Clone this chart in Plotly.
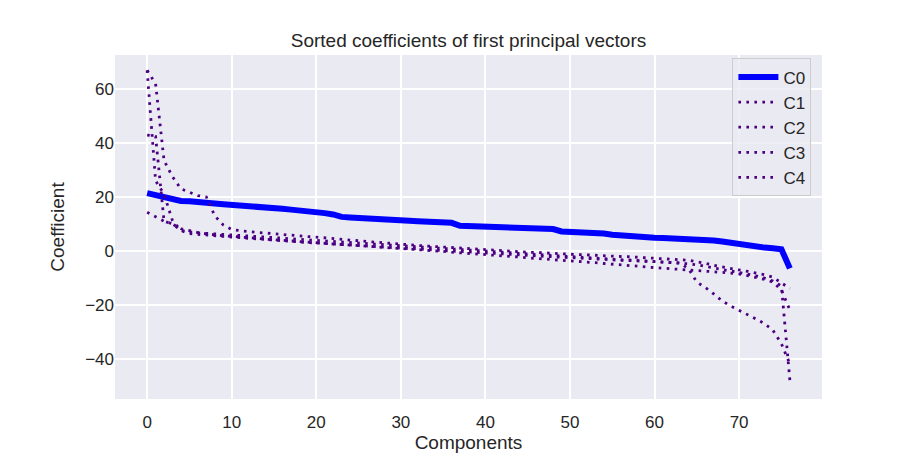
import plotly.graph_objects as go

# sorted coefficients of the first principal vectors
components = list(range(77))

c0 = [21.4, 20.6, 19.8, 19.0, 18.5, 18.4, 18.3, 18.1, 17.6, 17.3,
      17.1, 17.0, 16.9, 16.6, 16.2, 16.0, 15.6, 15.3, 15.1, 14.8,
      14.4, 14.0, 13.5, 12.6, 12.4, 12.3, 12.2, 12.0, 11.7, 11.5,
      11.3, 11.2, 11.0, 10.8, 10.7, 10.6, 10.4, 9.3, 9.2, 9.1,
      9.0, 8.9, 8.8, 8.7, 8.6, 8.5, 8.4, 8.3, 8.1, 7.2,
      7.1, 7.0, 6.9, 6.8, 6.4, 6.0, 5.7, 5.4, 5.2, 5.0,
      4.9, 4.8, 4.7, 4.6, 4.4, 4.3, 4.1, 3.8, 3.5, 3.0,
      2.6, 1.7, 1.4, 1.2, 1.0, 0.6, -6.5]

c1 = [67.0, 62.0, 33.5, 27.5, 23.0, 21.6, 20.5, 20.0, 13.0, 9.6,
      7.9, 7.5, 7.1, 6.8, 6.6, 6.3, 6.0, 5.8, 5.5, 5.3,
      5.1, 4.8, 4.5, 4.3, 4.0, 3.7, 3.5, 3.2, 3.0, 2.7,
      2.5, 2.3, 2.0, 1.8, 1.6, 1.3, 1.1, 0.9, 0.7, 0.5,
      0.3, 0.2, 0.0, -0.2, -0.3, -0.5, -0.6, -0.8, -0.9, -1.1,
      -1.2, -1.4, -1.5, -1.7, -1.8, -2.0, -2.1, -2.2, -2.4, -2.5,
      -2.7, -2.8, -3.0, -3.2, -3.5, -4.1, -4.6, -5.4, -6.0, -6.7,
      -7.1, -7.6, -8.2, -8.9, -9.8, -11.8, -14.0]

c2 = [67.0, 26.0, 21.0, 11.2, 7.6, 7.0, 6.7, 6.5, 6.2, 6.0,
      5.8, 5.5, 5.3, 5.2, 5.0, 4.7, 4.6, 4.4, 4.1, 4.0,
      3.8, 3.5, 3.4, 3.2, 2.9, 2.8, 2.6, 2.3, 2.2, 2.0,
      1.8, 1.5, 1.4, 1.2, 0.9, 0.8, 0.6, 0.3, 0.2, 0.0,
      -0.3, -0.4, -0.6, -0.9, -1.0, -1.2, -1.5, -1.6, -1.8, -2.1,
      -2.2, -2.4, -2.6, -2.8, -2.9, -3.1, -3.3, -3.4, -3.6, -3.8,
      -3.9, -4.1, -4.3, -4.5, -4.8, -5.2, -5.7, -6.3, -6.9, -7.5,
      -8.0, -8.6, -9.3, -10.1, -11.2, -13.0, -48.0]

c3 = [43.0, 42.5, 11.0, 9.9, 8.2, 7.4, 6.8, 6.3, 5.9, 5.6,
      5.4, 5.1, 4.8, 4.6, 4.3, 4.1, 3.9, 3.6, 3.4, 3.2,
      3.0, 2.8, 2.6, 2.3, 2.1, 1.9, 1.7, 1.5, 1.3, 1.1,
      0.9, 0.6, 0.4, 0.2, 0.0, -0.2, -0.5, -0.7, -0.9, -1.2,
      -1.4, -1.6, -1.9, -2.1, -2.3, -2.6, -2.8, -3.0, -3.3, -3.5,
      -3.7, -4.0, -4.2, -4.4, -4.7, -4.9, -5.2, -5.4, -5.7, -6.0,
      -6.2, -6.4, -6.7, -6.9, -7.1, -7.3, -7.5, -7.8, -8.0, -8.3,
      -8.6, -9.2, -9.9, -10.6, -11.6, -14.5, -22.0]

c4 = [14.3, 12.7, 11.0, 10.0, 7.5, 6.4, 6.1, 5.8, 5.5, 5.3,
      5.1, 4.9, 4.6, 4.4, 4.2, 4.0, 3.7, 3.5, 3.3, 3.1,
      2.9, 2.7, 2.5, 2.3, 2.1, 1.9, 1.7, 1.5, 1.3, 1.2,
      1.0, 0.8, 0.6, 0.5, 0.3, 0.1, -0.1, -0.2, -0.4, -0.6,
      -0.8, -1.0, -1.1, -1.3, -1.5, -1.7, -1.8, -2.0, -2.2, -2.4,
      -2.5, -2.7, -2.9, -3.0, -3.2, -3.3, -3.5, -3.6, -3.7, -3.9,
      -4.0, -4.2, -4.3, -4.5, -6.6, -11.6, -13.6, -16.0, -18.6, -20.5,
      -22.0, -23.6, -25.3, -27.0, -29.5, -34.5, -42.0]

x_ticks = [0, 10, 20, 30, 40, 50, 60, 70]
y_ticks = [-40, -20, 0, 20, 40, 60]

font_family = "Arial, Liberation Sans, DejaVu Sans, sans-serif"
purple = "#4b0082"

fig = go.Figure()

fig.add_trace(go.Scatter(x=components, y=c0, name="C0", mode="lines",
                         line=dict(color="#0000ff", width=6)))
for name, vals in [("C1", c1), ("C2", c2), ("C3", c3), ("C4", c4)]:
    fig.add_trace(go.Scatter(x=components, y=vals, name=name, mode="lines",
                             line=dict(color=purple, width=2.8, dash="2.6px,5.4px")))

# the page body adds an 8px margin, so the figure is drawn 8px smaller and shifted
fig.update_layout(
    width=905, height=449,
    margin=dict(l=107, r=91, t=47, b=58, autoexpand=False),
    paper_bgcolor="white",
    plot_bgcolor="#eaeaf2",
    font=dict(family=font_family, size=17, color="#262626"),
    title=dict(text="Sorted coefficients of first principal vectors",
               x=0.5, xref="paper", xanchor="center",
               y=0.929, yref="container", yanchor="middle",
               font=dict(size=19, color="#262626")),
    legend=dict(x=0.985, y=0.99, xanchor="right", yanchor="top",
                bgcolor="rgba(234,234,242,0.8)", bordercolor="#cccccc", borderwidth=1,
                font=dict(size=17), tracegroupgap=0, itemwidth=40),
    showlegend=True,
)

fig.update_xaxes(range=[-3.8, 79.8], tickvals=x_ticks, showgrid=True, gridcolor="white",
                 gridwidth=1.6, zeroline=False, showline=False, ticks="",
                 ticklabelstandoff=11, automargin=False,
                 title=dict(text="Components", font=dict(size=19), standoff=3))
fig.update_yaxes(range=[-55, 72.7], tickvals=y_ticks, showgrid=True, gridcolor="white",
                 gridwidth=1.6, zeroline=False, showline=False, ticks="",
                 ticklabelstandoff=0, automargin=False,
                 title=dict(text="Coefficient", font=dict(size=19), standoff=15))

fig.write_html("out.html")
